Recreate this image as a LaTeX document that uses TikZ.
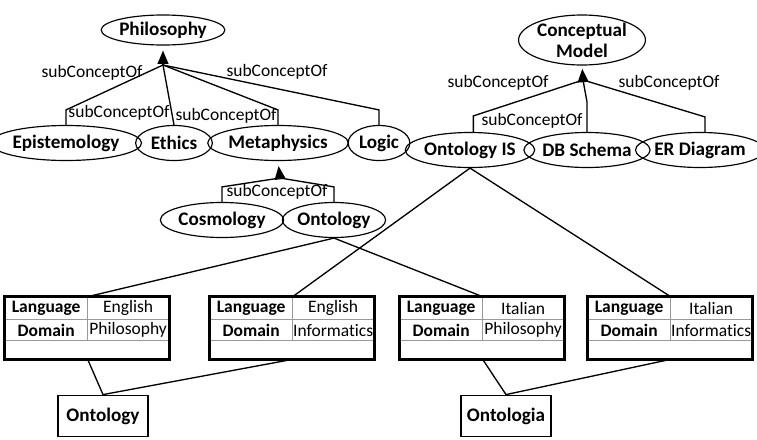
\documentclass[tikz,border=0pt]{standalone}
\usepackage{fontspec}
\setmainfont{Carlito}[Ligatures=NoCommon]
\usepackage{tikz}
\usetikzlibrary{shapes.geometric,arrows.meta,calc}

\tikzset{
  concept/.style={ellipse, draw, line width=0.7pt, inner sep=0pt, minimum height=21pt,
    font=\fontsize{11.5}{12.6}\selectfont\bfseries, align=center},
  rel/.style={font=\fontsize{10.5}{12}\selectfont, inner sep=0pt},
  link/.style={line width=0.8pt},
  isa/.style={link, -{Triangle[width=6.5pt,length=8pt]}},
  tbl/.style={minimum width=98.4pt, minimum height=37.2pt, inner sep=0pt},
  frame/.style={line width=1.6pt},
  cell/.style={black!40, line width=0.5pt},
  key/.style={font=\fontsize{10.5}{12}\selectfont\bfseries, inner sep=0pt},
  val/.style={font=\fontsize{10.5}{12}\selectfont, inner sep=0pt},
  langbox/.style={draw, line width=0.7pt, minimum width=54pt, minimum height=25pt,
    inner sep=0pt, font=\fontsize{11.5}{12}\selectfont\bfseries}
}

\begin{document}
\begin{tikzpicture}[x=0.6pt, y=-0.6pt]
  \useasboundingbox (0,0) rectangle (757,439);

  % Philosophy tree
  \node[concept, minimum width=57.6pt, minimum height=18pt] (phil) at (163,30) {Philosophy};
  \node[concept, minimum width=74pt] (epis) at (66,143) {Epistemology};
  \node[concept, minimum width=46pt] (ethi) at (174,143) {Ethics};
  \node[concept, minimum width=72pt] (meta) at (278,143) {Metaphysics};
  \node[concept, minimum width=37pt] (logi) at (379,143) {Logic};
  \coordinate (pj) at (163,65);
  \draw[isa, shorten >=3pt] (pj) -- (phil.south);
  \draw[link] (pj) -- ([yshift=9pt]epis.north) -- (epis.north);
  \draw[link] (pj) -- (ethi.north);
  \draw[link] (pj) -- ([yshift=9pt]meta.north) -- (meta.north);
  \draw[link] (pj) -- ([yshift=9pt]logi.north) -- (logi.north);
  \node[rel] (l1) at (92,73) {subConceptOf};
  \node[rel] (l2) at (277,72) {subConceptOf};
  \node[rel] (l3) at (119,113) {subConceptOf};
  \node[rel] (l4) at (226,116) {subConceptOf};

  % Metaphysics subtree
  \node[concept, minimum width=57pt] (cosm) at (222,220) {Cosmology};
  \node[concept, minimum width=57.6pt] (onto) at (334,220) {Ontology};
  \coordinate (mj) at (280,178);
  \draw[isa, shorten >=3pt] (mj) -- (meta.south);
  \draw[link] (mj) -- ([yshift=9pt]cosm.north) -- (cosm.north);
  \draw[link] (mj) -- ([yshift=9pt]onto.north) -- (onto.north);
  \node[rel] (l5) at (277,192) {subConceptOf};

  % Conceptual model tree
  \node[concept, minimum width=72.6pt, minimum height=30pt] (conc) at (582,40) {Conceptual\\Model};
  \node[concept, minimum width=54pt] (onis) at (470,150) {Ontology IS};
  \node[concept, minimum width=64pt] (dbsc) at (587,150) {DB Schema};
  \node[concept, minimum width=63pt] (erdi) at (700,150) {ER Diagram};
  \coordinate (cj) at (583,80);
  \draw[isa, shorten >=2pt] (cj) -- (conc.south);
  \draw[link] (cj) -- ([xshift=2pt,yshift=9.6pt]onis.north) -- ([xshift=2pt]onis.north);
  \draw[link] (cj) -- ([yshift=18pt]dbsc.north) -- (dbsc.north);
  \draw[link] (cj) -- ([xshift=3pt,yshift=9pt]erdi.north) -- ([xshift=3pt]erdi.north);
  \node[rel] (l6) at (498,83) {subConceptOf};
  \node[rel] (l7) at (669,83) {subConceptOf};
  \node[rel] (l8) at (532,121) {subConceptOf};

  % Table 1
  \node[tbl] (t1) at (87,328) {};
  \draw[cell] ($(t1.north west)+(0,23)$) -- ($(t1.north east)+(0,23)$);
  \draw[cell] ($(t1.north west)+(0,44)$) -- ($(t1.north east)+(0,44)$);
  \draw[cell] ($(t1.north west)+(83,0)$) coordinate (t1s) -- ++(0,44);
  \draw[frame] (t1.north west) rectangle (t1.south east);
  \node[key] (t1a) at ($(t1.north west)+(41.5,11.5)$) {Language};
  \node[val] (t1b) at ($(t1.north west)+(123.5,11.5)$) {English};
  \node[key] (t1c) at ($(t1.north west)+(41.5,33.5)$) {Domain};
  \node[val] (t1d) at ($(t1.north west)+(123.5,33.5)$) {Philosophy};

  % Table 2
  \node[tbl] (t2) at (292,328) {};
  \draw[cell] ($(t2.north west)+(0,23)$) -- ($(t2.north east)+(0,23)$);
  \draw[cell] ($(t2.north west)+(0,44)$) -- ($(t2.north east)+(0,44)$);
  \draw[cell] ($(t2.north west)+(83,0)$) coordinate (t2s) -- ++(0,44);
  \draw[frame] (t2.north west) rectangle (t2.south east);
  \node[key] (t2a) at ($(t2.north west)+(41.5,11.5)$) {Language};
  \node[val] (t2b) at ($(t2.north west)+(123.5,11.5)$) {English};
  \node[key] (t2c) at ($(t2.north west)+(41.5,33.5)$) {Domain};
  \node[val] (t2d) at ($(t2.north west)+(123.5,33.5)$) {Informatics};

  % Table 3
  \node[tbl] (t3) at (482,328) {};
  \draw[cell] ($(t3.north west)+(0,23)$) -- ($(t3.north east)+(0,23)$);
  \draw[cell] ($(t3.north west)+(0,44)$) -- ($(t3.north east)+(0,44)$);
  \draw[cell] ($(t3.north west)+(83,0)$) coordinate (t3s) -- ++(0,44);
  \draw[frame] (t3.north west) rectangle (t3.south east);
  \node[key] (t3a) at ($(t3.north west)+(41.5,11.5)$) {Language};
  \node[val] (t3b) at ($(t3.north west)+(123.5,11.5)$) {Italian};
  \node[key] (t3c) at ($(t3.north west)+(41.5,33.5)$) {Domain};
  \node[val] (t3d) at ($(t3.north west)+(123.5,33.5)$) {Philosophy};

  % Table 4
  \node[tbl] (t4) at (670,328) {};
  \draw[cell] ($(t4.north west)+(0,23)$) -- ($(t4.north east)+(0,23)$);
  \draw[cell] ($(t4.north west)+(0,44)$) -- ($(t4.north east)+(0,44)$);
  \draw[cell] ($(t4.north west)+(83,0)$) coordinate (t4s) -- ++(0,44);
  \draw[frame] (t4.north west) rectangle (t4.south east);
  \node[key] (t4a) at ($(t4.north west)+(41.5,11.5)$) {Language};
  \node[val] (t4b) at ($(t4.north west)+(123.5,11.5)$) {Italian};
  \node[key] (t4c) at ($(t4.north west)+(41.5,33.5)$) {Domain};
  \node[val] (t4d) at ($(t4.north west)+(123.5,33.5)$) {Informatics};

  % Lexical forms
  \node[langbox] (enbox) at (103,416) {Ontology};
  \node[langbox] (itbox) at (506,416) {Ontologia};

  % Links to tables
  \draw[link] (onto.south) -- (t1s);
  \draw[link] (onto.south) -- (t3s);
  \draw[link] (onis.south) -- (t2s);
  \draw[link] (onis.south) -- (t4s);
  \draw[link] (t1s |- t1.south) -- (enbox.north);
  \draw[link] (t2s |- t2.south) -- (enbox.north);
  \draw[link] (t3s |- t3.south) -- (itbox.north);
  \draw[link] (t4s |- t4.south) -- (itbox.north);
\end{tikzpicture}
\end{document}
